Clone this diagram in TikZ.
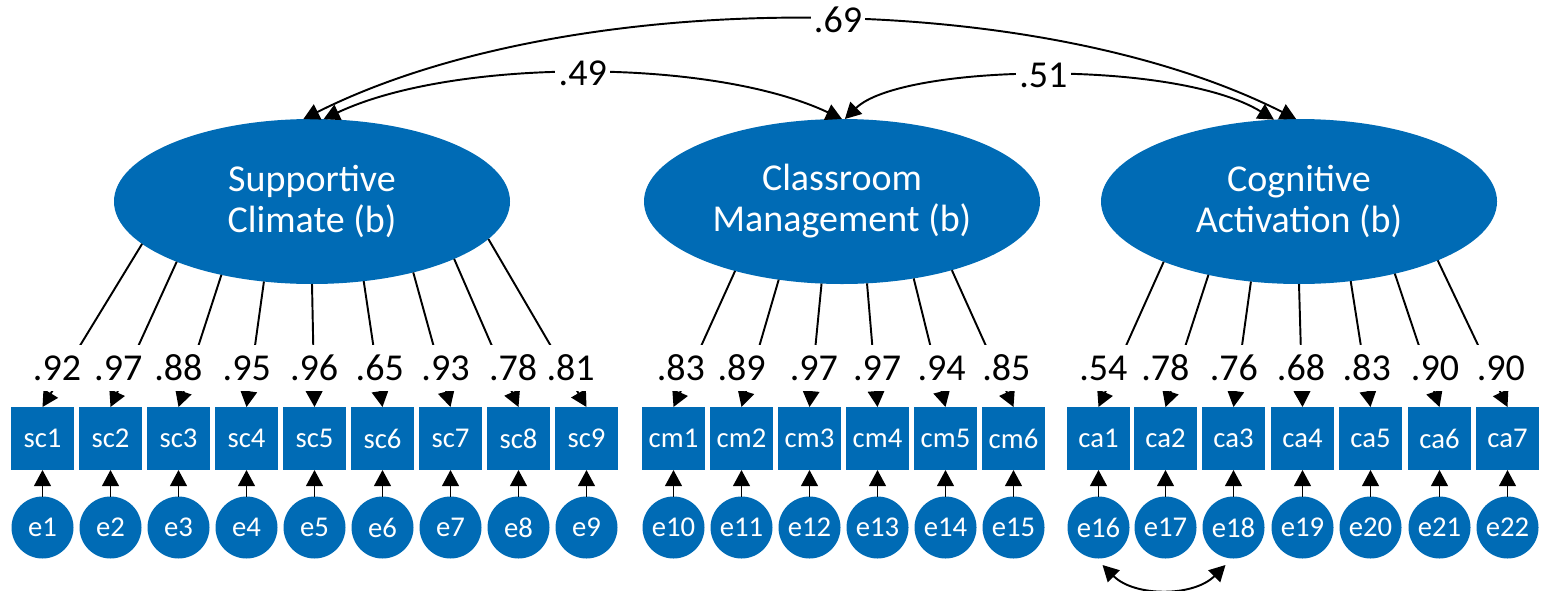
\documentclass[tikz,border=0pt]{standalone}
\usepackage{fontspec}
\setmainfont{Carlito}
\usetikzlibrary{arrows.meta,shapes.geometric}
\definecolor{semblue}{RGB}{0,107,181}
\begin{document}
\begin{tikzpicture}[x=0.75pt,y=-0.75pt,
  lat/.style={ellipse, fill=semblue, text=white, minimum width=297pt, minimum height=123.75pt,
    inner sep=0pt, outer sep=0pt, align=center, font=\fontsize{28.5}{30.75}\selectfont},
  obs/.style={rectangle, fill=semblue, text=white, minimum width=47.25pt, minimum height=47.25pt,
    inner sep=0pt, outer sep=0pt, font=\fontsize{21.5}{24}\selectfont},
  err/.style={circle, fill=semblue, text=white, minimum size=46.5pt,
    inner sep=0pt, outer sep=0pt, font=\fontsize{21.5}{24}\selectfont},
  lbl/.style={fill=white, inner xsep=2.5pt, inner ysep=0pt, minimum height=35pt,
    font=\fontsize{28.5}{30}\selectfont},
  clbl/.style={fill=white, inner xsep=2.5pt, inner ysep=1pt,
    font=\fontsize{28.5}{30}\selectfont},
  arr/.style={-{Triangle[length=12pt,width=12.5pt]}, line width=1.45pt},
  biarr/.style={{Triangle[length=12pt,width=12.5pt]}-{Triangle[length=12pt,width=12.5pt]}, line width=1.45pt},
]
\useasboundingbox (0,0) rectangle (1541,590);

% latent factors
\node[lat] (SC) at (312,201.5) {Supportive\\Climate (b)};
\node[lat] (CM) at (842,201.5) {Classroom\\Management (b)};
\node[lat] (CA) at (1299,201.5) {Cognitive\\Activation (b)};

% Supportive Climate indicators
\foreach \i/\e/\x/\a/\lx/\v in {1/1/42.5/194/57/.92, 2/2/110.5/204/118.3/.97, 3/3/178.5/219/178.4/.88,
    4/4/246.5/239/246.8/.95, 5/5/314.5/270/314.2/.96, 6/6/382.5/303/379.8/.65,
    7/7/450.5/325/445.5/.93, 8/8/518.5/338/513.2/.78, 9/9/586.5/348/570.6/.81}{
  \node[obs] (sc\i) at (\x,438.5) {sc\i};
  \node[err] (e\e) at (\x,527.5) {e\e};
  \draw[arr] (SC.\a) -- (sc\i.north);
  \node[lbl] (lsc\i) at (\lx,368) {\v};
  \draw[arr] (e\e) -- (sc\i);
}

% Classroom Management indicators
\foreach \i/\e/\x/\a/\lx/\v in {1/10/673.5/213/680.8/.83, 2/11/741.5/231/741.7/.89, 3/12/809.5/256/813.8/.97,
    4/13/877.5/287/877.2/.97, 5/14/945.5/313/941.7/.94, 6/15/1013.5/328/1006.3/.85}{
  \node[obs] (cm\i) at (\x,438.5) {cm\i};
  \node[err] (e\e) at (\x,527.5) {e\e};
  \draw[arr] (CM.\a) -- (cm\i.north);
  \node[lbl] (lcm\i) at (\lx,368) {\v};
  \draw[arr] (e\e) -- (cm\i);
}

% Cognitive Activation indicators
\foreach \i/\e/\x/\a/\lx/\v in {1/16/1098.5/204/1103.3/.54, 2/17/1165.5/219/1165.3/.78, 3/18/1233.5/239/1233.8/.76,
    4/19/1302.5/270/1301/.68, 5/20/1370.5/303/1366.7/.83, 6/21/1439.5/323/1435/.90, 7/22/1507.5/337/1500.8/.90}{
  \node[obs] (ca\i) at (\x,438.5) {ca\i};
  \node[err] (e\e) at (\x,527.5) {e\e};
  \draw[arr] (CA.\a) -- (ca\i.north);
  \node[lbl] (lca\i) at (\lx,368) {\v};
  \draw[arr] (e\e) -- (ca\i);
}

% factor covariances
\draw[biarr] (SC.96) .. controls +(264,-132.7) and +(-264,-133.2) .. (CA.92)
  node[clbl,pos=0.535] (l69) {.69};
\draw[biarr] (SC.82) .. controls +(130,-61.3) and +(-130,-61.3) .. (CM.90)
  node[clbl,pos=0.5] (l49) {.49};
\draw[biarr] (CM.88) .. controls +(56,-55) and +(-99,-61) .. (CA.107)
  node[clbl,pos=0.5] (l51) {.51};

% error covariance
\draw[biarr] ([shift={(4,37.5)}]e16.center) .. controls +(32,32) and +(-32,32) .. ([shift={(-8,37.5)}]e18.center);
\end{tikzpicture}
\end{document}
